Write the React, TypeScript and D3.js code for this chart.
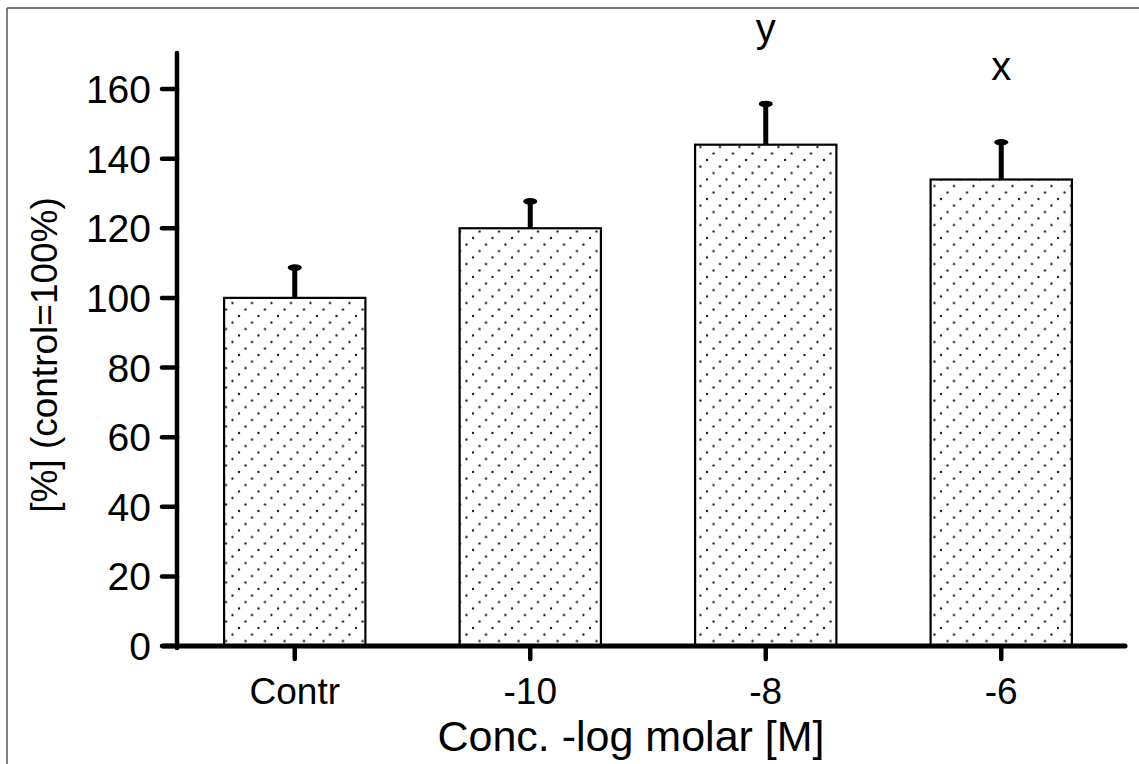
import React from "react";
import * as d3 from "d3";

const categories = ["Contr", "-10", "-8", "-6"];
const means = [100, 120, 144, 134];
const errors = [9, 8, 12, 11];
const marks = ["", "", "y", "x"];
const yTicks = [0, 20, 40, 60, 80, 100, 120, 140, 160];

const W = 1139;
const H = 764;
const FONT = "'Liberation Sans', Arial, Helvetica, sans-serif";

// dot lattice for the bar fill: 3 rows per tile, each row shifted left by a third of the width
const PW = 19.5;
const PR = 6.5;
const NR = 3;
const dotRows = d3.range(NR);

export default function App() {
  const x = d3.scalePoint<string>().domain(categories).range([177, 1119]).padding(0.5);
  const step = x.step();
  const barW = step * 0.6;
  const y = d3.scaleLinear().domain([0, 160]).range([646, 89]);
  const y0 = y(0);

  return (
    <div style={{ position: "absolute", left: 0, top: 0 }}>
      <svg width={W} height={H} style={{ display: "block", background: "#fff" }} fontFamily={FONT}>
        <defs>
          <pattern id="dots" patternUnits="userSpaceOnUse" width={PW} height={PR * NR} x={3} y={2}>
            {dotRows.map((k) => {
              const cx = (((-k * PW) / NR) % PW + PW + 2) % PW;
              return <circle key={k} cx={cx} cy={k * PR + 2} r={1.15} fill="#111" />;
            })}
          </pattern>
        </defs>
        {/* frame */}
        <line x1={7} y1={8} x2={W} y2={8} stroke="#555" strokeWidth={1.5} />
        <line x1={7} y1={8} x2={7} y2={H} stroke="#555" strokeWidth={1.5} />

        {/* bars */}
        {categories.map((c, i) => {
          const cx = x(c)!;
          return (
            <g key={c}>
              <rect
                x={cx - barW / 2}
                y={y(means[i])}
                width={barW}
                height={y0 - y(means[i])}
                fill="url(#dots)"
                stroke="#000"
                strokeWidth={2.2}
              />
              <line x1={cx} x2={cx} y1={y(means[i])} y2={y(means[i] + errors[i])} stroke="#000" strokeWidth={5} />
              <ellipse cx={cx} cy={y(means[i] + errors[i]) + 1} rx={7} ry={3.3} fill="#000" />
              {marks[i] && (
                <text x={cx} y={y(means[i] + errors[i]) - 61} textAnchor="middle" fontSize={40}>
                  {marks[i]}
                </text>
              )}
            </g>
          );
        })}

        {/* y axis */}
        <line x1={177} x2={177} y1={53} y2={y0 + 2} stroke="#000" strokeWidth={4.5} strokeLinecap="round" />
        {yTicks.map((t) => (
          <g key={t}>
            <line x1={162} x2={177} y1={y(t)} y2={y(t)} stroke="#000" strokeWidth={4.5} strokeLinecap="round" />
            <text x={151} y={y(t)} dy="0.36em" textAnchor="end" fontSize={39}>
              {t}
            </text>
          </g>
        ))}

        {/* x axis */}
        <line x1={163} x2={1125} y1={y0} y2={y0} stroke="#000" strokeWidth={5} strokeLinecap="round" />
        {categories.map((c) => (
          <g key={c}>
            <line x1={x(c)!} x2={x(c)!} y1={y0} y2={y0 + 13} stroke="#000" strokeWidth={4.5} strokeLinecap="round" />
            <text x={x(c)!} y={y0 + 58} textAnchor="middle" fontSize={37}>
              {c}
            </text>
          </g>
        ))}

        <text x={631} y={751} textAnchor="middle" fontSize={43}>
          Conc. -log molar [M]
        </text>
        <text transform={`translate(57, 355) rotate(-90)`} textAnchor="middle" fontSize={37}>
          [%] (control=100%)
        </text>
      </svg>
    </div>
  );
}
